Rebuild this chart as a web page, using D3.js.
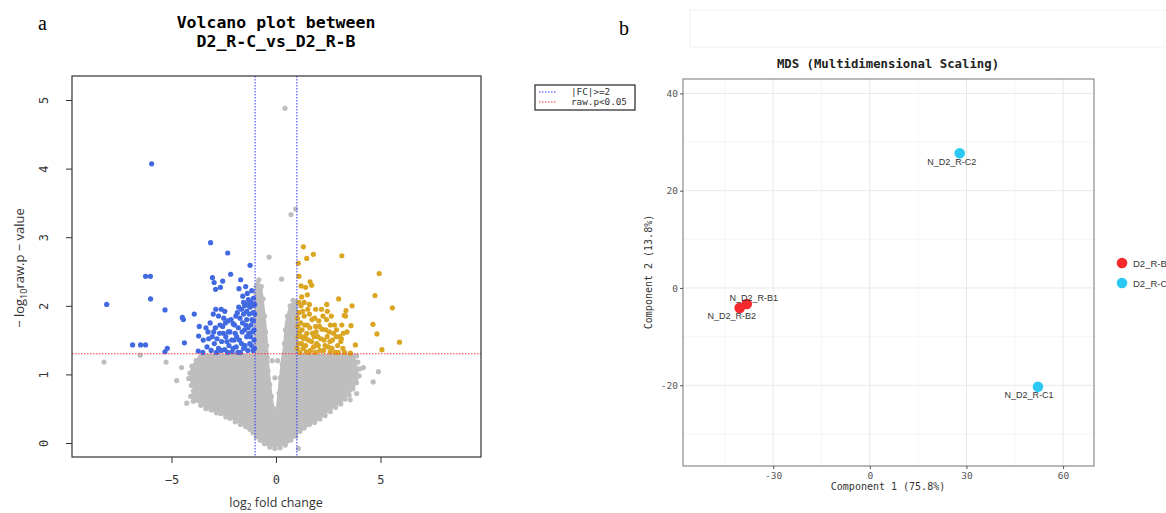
<!DOCTYPE html>
<html>
<head>
<meta charset="utf-8">
<script src="https://cdn.jsdelivr.net/npm/d3@7"></script>
<style>
  body { margin: 0; background: #fff; }
  svg { display: block; }
</style>
</head>
<body>
<div id="chart"></div>
<script>
// ---------- data: volcano plot ----------
var volcanoXTicks = [-5, 0, 5];
var volcanoYTicks = [0, 1, 2, 3, 4, 5];
var fcCut = 1;          // log2(2)
var pCut = 0.05;
var legendLabels = ["|FC|>=2", "raw.p<0.05"];

// down-regulated (log2FC, -log10 p)
var downGenes = [
  [-5.95, 4.07], [-3.13, 2.92], [-2.31, 2.77], [-1.24, 2.59], [-2.17, 2.46], [-6.24, 2.43], [-6.01, 2.43],
  [-3.04, 2.41], [-2.96, 2.34], [-2.55, 2.36], [-2.89, 2.24], [-2.66, 2.27], [-1.69, 2.38], [-1.77, 2.25],
  [-1.45, 2.28], [-1.37, 2.18], [-1.59, 2.14], [-1.16, 2.22], [-1.08, 2.11], [-1.32, 2.09], [-6.00, 2.10],
  [-8.10, 2.02], [-5.31, 1.94], [-4.48, 1.83], [-4.43, 1.80], [-3.91, 1.88], [-3.67, 1.70], [-3.70, 1.56],
  [-4.38, 1.46], [-6.86, 1.43], [-6.48, 1.43], [-6.24, 1.43], [-5.20, 1.38], [-5.31, 1.33], [-3.72, 1.34],
  [-3.00, 1.88], [-2.75, 1.85], [-2.50, 1.82], [-2.30, 1.78], [-2.05, 1.74], [-1.85, 1.90], [-1.65, 1.95],
  [-1.50, 2.00], [-1.25, 1.98], [-1.10, 1.90], [-3.25, 1.62], [-3.05, 1.55], [-2.90, 1.68], [-2.70, 1.60],
  [-2.55, 1.70], [-2.40, 1.55], [-2.20, 1.62], [-2.00, 1.50], [-1.80, 1.68], [-1.60, 1.75], [-1.40, 1.80],
  [-1.20, 1.72], [-1.05, 1.65], [-3.30, 1.40], [-3.10, 1.35], [-2.95, 1.45], [-2.75, 1.38], [-2.60, 1.48],
  [-2.45, 1.36], [-2.25, 1.42], [-2.10, 1.33], [-1.90, 1.40], [-1.75, 1.50], [-1.55, 1.38], [-1.40, 1.55],
  [-1.25, 1.45], [-1.10, 1.35], [-1.05, 1.50], [-1.30, 1.60], [-1.70, 1.32], [-2.35, 1.48], [-2.85, 1.32],
  [-1.15, 1.80], [-1.50, 1.65], [-1.95, 1.60], [-2.15, 1.80], [-1.02, 2.02], [-1.20, 2.05], [-1.40, 1.92],
  [-3.22, 1.52], [-3.15, 1.75], [-2.98, 1.62], [-2.82, 1.52], [-2.68, 1.72], [-2.62, 1.35], [-2.52, 1.60],
  [-2.42, 1.75], [-2.32, 1.32], [-2.28, 1.62], [-2.12, 1.50], [-2.05, 1.38], [-1.98, 1.72], [-1.88, 1.55],
  [-1.82, 1.32], [-1.72, 1.82], [-1.65, 1.45], [-1.62, 1.62], [-1.55, 1.88], [-1.48, 1.42], [-1.45, 1.72],
  [-1.35, 1.35], [-1.33, 1.68], [-1.28, 1.88], [-1.22, 1.55], [-1.18, 1.42], [-1.12, 1.62], [-1.08, 1.78],
  [-1.03, 1.38], [-1.02, 1.88], [-1.15, 2.00], [-1.35, 2.02], [-1.55, 2.05], [-2.45, 1.92], [-2.62, 1.95],
  [-2.88, 1.95], [-3.35, 1.68], [-3.48, 1.50], [-3.50, 1.32], [-1.92, 1.85], [-1.78, 1.98]
];

// up-regulated
var upGenes = [
  [1.31, 2.86], [1.79, 2.75], [1.47, 2.69], [3.15, 2.73], [1.07, 2.62], [1.10, 2.43], [1.63, 2.35],
  [1.71, 2.30], [1.20, 2.29], [1.42, 2.27], [1.50, 2.16], [4.94, 2.47], [4.74, 2.15], [5.57, 1.97],
  [3.00, 2.10], [3.64, 2.00], [2.43, 2.02], [2.46, 1.92], [3.35, 1.93], [3.27, 1.86], [3.33, 1.85],
  [1.23, 2.13], [1.20, 2.00], [4.64, 1.73], [4.83, 1.59], [5.91, 1.47], [5.07, 1.36], [3.59, 1.71],
  [3.15, 1.72], [3.40, 1.62], [3.13, 1.52], [3.80, 1.43], [3.56, 1.31], [1.10, 1.90], [1.35, 1.85],
  [1.60, 1.88], [1.85, 1.82], [2.05, 1.78], [2.25, 1.85], [2.60, 1.72], [2.90, 1.65], [1.05, 1.70],
  [1.25, 1.65], [1.50, 1.72], [1.75, 1.60], [2.00, 1.55], [2.20, 1.66], [2.45, 1.55], [2.70, 1.50],
  [2.95, 1.42], [3.20, 1.38], [1.08, 1.45], [1.30, 1.38], [1.55, 1.50], [1.80, 1.40], [2.10, 1.35],
  [2.35, 1.42], [2.60, 1.33], [2.85, 1.32], [1.15, 1.32], [1.45, 1.33], [1.95, 1.45], [2.50, 1.40],
  [1.65, 1.35], [1.40, 1.55], [2.30, 1.50], [1.90, 1.70], [1.20, 1.55], [2.75, 1.60], [3.05, 1.55],
  [1.02, 1.38], [1.05, 1.55], [1.03, 1.82], [1.12, 1.62], [1.18, 1.75], [1.22, 1.45], [1.28, 1.92],
  [1.33, 1.52], [1.38, 1.72], [1.42, 1.42], [1.48, 1.60], [1.52, 1.95], [1.58, 1.32], [1.62, 1.68],
  [1.70, 1.48], [1.72, 1.80], [1.82, 1.55], [1.88, 1.32], [1.92, 1.62], [2.02, 1.42], [2.08, 1.70],
  [2.15, 1.52], [2.18, 1.95], [2.28, 1.35], [2.38, 1.65], [2.42, 1.80], [2.55, 1.62], [2.58, 1.48],
  [2.68, 1.38], [2.80, 1.72], [2.88, 1.55], [2.98, 1.32], [3.10, 1.48], [3.22, 1.60], [3.28, 1.32],
  [1.10, 2.05], [1.35, 2.05], [1.60, 2.02], [1.90, 1.95], [2.65, 1.85]
];

// not significant: scattered points and the ragged rim of the dense cloud
var nsGenes = [
  [0.43, 4.88], [0.72, 3.33], [0.94, 3.41], [-0.33, 2.71], [0.27, 2.39], [-8.23, 1.18], [-6.50, 1.28],
  [-5.26, 1.18], [-4.75, 0.91], [-4.52, 1.10], [-4.27, 0.58], [-3.96, 0.61], [4.18, 1.10], [4.90, 1.04],
  [4.65, 0.89], [3.86, 0.72], [3.55, 0.63], [1.07, -0.08], [1.07, 0.19],
  [-3.55, 1.26], [-3.82, 1.20], [-4.02, 1.12], [-4.12, 1.02], [-4.18, 0.94], [-4.05, 0.84], [-3.95, 0.76],
  [-4.08, 0.68], [-3.88, 0.62], [-3.60, 0.55], [-3.35, 0.50], [-3.10, 0.48], [-2.85, 0.44], [-2.65, 0.43],
  [-2.40, 0.38], [-2.20, 0.36], [-1.95, 0.31], [-1.70, 0.27], [-1.45, 0.24], [-1.25, 0.20], [-1.10, 0.15],
  [-0.95, 0.09], [-0.75, 0.04], [-0.55, -0.01], [-0.30, -0.06], [-0.05, -0.08], [0.20, -0.07], [0.45, -0.03],
  [0.70, 0.04], [0.95, 0.10], [1.15, 0.17], [1.35, 0.22], [1.60, 0.27], [1.85, 0.30], [2.10, 0.35],
  [2.35, 0.40], [2.60, 0.46], [2.85, 0.52], [3.10, 0.57], [3.30, 0.64], [3.50, 0.70], [3.68, 0.79],
  [3.85, 0.88], [3.98, 0.98], [4.00, 1.08], [3.92, 1.18], [3.85, 1.27],
  [-0.42, 1.25], [-0.38, 1.05], [-0.30, 0.85], [-0.22, 0.68], [-0.12, 0.50], [0.08, 0.50], [0.15, 0.72],
  [0.22, 0.95], [0.30, 1.15], [0.38, 1.30], [-0.05, 0.95], [0.08, 1.20], [-0.18, 1.20],
  [-0.95, 2.28], [-0.82, 2.38], [-0.70, 2.28], [-0.62, 2.10], [-0.55, 1.85], [-0.50, 1.62], [-0.45, 1.42],
  [0.40, 1.45], [0.45, 1.65], [0.55, 1.85], [0.68, 2.00], [0.82, 2.08], [0.96, 2.06]
];

// outline of the dense grey cloud (too many genes to place one by one)
var nsCloud = [
  [-3.6, 1.28], [-4.0, 1.10], [-4.1, 0.95], [-3.9, 0.80], [-4.0, 0.68], [-3.5, 0.55], [-3.0, 0.48],
  [-2.5, 0.42], [-2.0, 0.35], [-1.6, 0.28], [-1.2, 0.22], [-0.9, 0.12], [-0.7, 0.04], [-0.45, -0.02],
  [-0.1, -0.04], [0.2, -0.03], [0.5, 0.00], [0.8, 0.08], [1.1, 0.18], [1.5, 0.26], [1.9, 0.33],
  [2.3, 0.42], [2.7, 0.52], [3.1, 0.60], [3.4, 0.70], [3.7, 0.82], [3.9, 0.95], [3.85, 1.10],
  [3.7, 1.28], [1.0, 1.28], [1.0, 2.00], [0.85, 2.05], [0.65, 1.95], [0.5, 1.75], [0.4, 1.40],
  [0.3, 1.20], [0.18, 0.85], [0.05, 0.45], [-0.1, 0.45], [-0.22, 0.65], [-0.35, 1.00], [-0.42, 1.30],
  [-0.5, 1.65], [-0.6, 1.95], [-0.72, 2.25], [-0.88, 2.35], [-1.0, 2.20], [-1.0, 1.28]
];

// ---------- data: MDS ----------
var mdsSamples = ["N_D2_R-B1", "N_D2_R-B2", "N_D2_R-C1", "N_D2_R-C2"];
var mdsGroups = ["D2_R-B", "D2_R-B", "D2_R-C", "D2_R-C"];
var mdsComp1 = [-38.2, -40.4, 52.2, 27.9];
var mdsComp2 = [-3.3, -4.1, -20.3, 27.7];
var mdsXTicks = [-30, 0, 30, 60];
var mdsYTicks = [-20, 0, 20, 40];
var mdsXMinor = [-45, -15, 15, 45];
var mdsYMinor = [-30, -10, 10, 30];
var groupNames = ["D2_R-B", "D2_R-C"];

var W = 1166, H = 513;
var svg = d3.select("#chart").append("svg")
    .attr("width", W)
    .attr("height", H);

// panel letters
svg.append("text").attr("x", 38).attr("y", 30)
    .style("font-family", "Liberation Serif").style("font-size", "20px").text("a");
svg.append("text").attr("x", 619).attr("y", 35)
    .style("font-family", "Liberation Serif").style("font-size", "20px").text("b");

// faint frame from the pasted screenshot
svg.append("path")
    .attr("d", "M1166,10H690V47H1166")
    .attr("fill", "none").attr("stroke", "#efefef");

// ================= Volcano =================
var vx = d3.scaleLinear().domain([-9.76, 9.81]).range([72, 481]);
var vy = d3.scaleLinear().domain([-0.204, 5.35]).range([457, 76]);
var mono = "DejaVu Sans Mono";

var vol = svg.append("g");

vol.append("text").attr("x", 276).attr("y", 28).attr("text-anchor", "middle")
    .style("font-family", mono).style("font-weight", "bold").style("font-size", "16.5px")
    .text("Volcano plot between");
vol.append("text").attr("x", 276).attr("y", 47).attr("text-anchor", "middle")
    .style("font-family", mono).style("font-weight", "bold").style("font-size", "16.5px")
    .text("D2_R-C_vs_D2_R-B");

var cloud = d3.line().x(d => vx(d[0])).y(d => vy(d[1])).curve(d3.curveLinearClosed);
vol.append("path")
    .datum(nsCloud)
    .attr("d", cloud)
    .attr("fill", "#bebebe")
    .attr("stroke", "#bebebe")
    .attr("stroke-width", 3)
    .attr("stroke-linejoin", "round");

function dots(data, color) {
    vol.append("g").selectAll("circle")
        .data(data)
        .join("circle")
        .attr("cx", d => vx(d[0]))
        .attr("cy", d => vy(d[1]))
        .attr("r", 2.6)
        .attr("fill", color);
}
dots(nsGenes, "#bebebe");
dots(downGenes, "#4169e1");
dots(upGenes, "#daa520");

// threshold lines
[-fcCut, fcCut].forEach(function (c) {
    vol.append("line")
        .attr("x1", vx(c)).attr("x2", vx(c))
        .attr("y1", 76).attr("y2", 457)
        .attr("stroke", "#3535ff").attr("stroke-width", 1)
        .attr("stroke-dasharray", "1.5,1.5");
});
vol.append("line")
    .attr("x1", 72).attr("x2", 481)
    .attr("y1", vy(-Math.log10(pCut))).attr("y2", vy(-Math.log10(pCut)))
    .attr("stroke", "#ff3030").attr("stroke-width", 1)
    .attr("stroke-dasharray", "1.5,1.5");

vol.append("rect")
    .attr("x", 72).attr("y", 76).attr("width", 409).attr("height", 381)
    .attr("fill", "none").attr("stroke", "#333").attr("stroke-width", 1.2);

// axes
var vxAxis = vol.append("g")
    .attr("transform", "translate(0,457)")
    .call(d3.axisBottom(vx).tickValues(volcanoXTicks).tickSize(6).tickPadding(12).tickFormat(d3.format("d")));
vxAxis.select(".domain").remove();
vxAxis.selectAll("text").style("font-family", mono).style("font-size", "12px").attr("fill", "#333");
vxAxis.selectAll("line").attr("stroke", "#333");

var vyAxis = vol.append("g")
    .attr("transform", "translate(72,0)")
    .call(d3.axisLeft(vy).tickValues(volcanoYTicks).tickSize(6).tickFormat(d3.format("d")));
vyAxis.select(".domain").remove();
vyAxis.selectAll("line").attr("stroke", "#333");
vyAxis.selectAll("text")
    .attr("x", null).attr("dy", null)
    .attr("text-anchor", "middle")
    .attr("transform", "translate(-28,0) rotate(-90)")
    .attr("y", 4)
    .style("font-family", mono).style("font-size", "12px").attr("fill", "#333");

var xl = vol.append("text").attr("x", 276).attr("y", 507).attr("text-anchor", "middle")
    .style("font-family", "Open Sans").style("font-size", "12.5px").attr("fill", "#333");
xl.append("tspan").text("log");
xl.append("tspan").attr("dy", 3).style("font-size", "8.5px").text("2");
xl.append("tspan").attr("dy", -3).text(" fold change");

var yl = vol.append("text")
    .attr("transform", "translate(24,268) rotate(-90)")
    .attr("text-anchor", "middle")
    .style("font-family", "Open Sans").style("font-size", "13px").attr("fill", "#333");
yl.append("tspan").text("\u2212 log");
yl.append("tspan").attr("dy", 3).style("font-size", "9px").text("10");
yl.append("tspan").attr("dy", -3).text("raw.p \u2212 value");

// legend
var lg = vol.append("g");
lg.append("rect").attr("x", 535).attr("y", 85).attr("width", 100).attr("height", 25)
    .attr("fill", "#fff").attr("stroke", "#333").attr("stroke-width", 1.3);
var legendStroke = ["#3535ff", "#ff3030"];
legendLabels.forEach(function (t, i) {
    var yy = 92 + i * 10;
    lg.append("line").attr("x1", 539).attr("x2", 557).attr("y1", yy).attr("y2", yy)
        .attr("stroke", legendStroke[i]).attr("stroke-dasharray", "1.5,1.5");
    lg.append("text").attr("x", 571).attr("y", yy + 3.3)
        .style("font-family", mono).style("font-size", "9.3px").attr("fill", "#333").text(t);
});

// ================= MDS =================
var mx = d3.scaleLinear().domain([-58, 69.6]).range([683, 1094]);
var my = d3.scaleLinear().domain([-36.6, 42.96]).range([466, 79]);
var groupColor = d3.scaleOrdinal().domain(groupNames).range(["#f5292c", "#2bc8f3"]);
var mds = svg.append("g");

mds.append("text").attr("x", 888).attr("y", 68).attr("text-anchor", "middle")
    .style("font-family", mono).style("font-weight", "bold").style("font-size", "12.3px")
    .attr("fill", "#222").text("MDS (Multidimensional Scaling)");

// grid
mds.append("g").selectAll("line").data(mdsXMinor).join("line")
    .attr("x1", d => mx(d)).attr("x2", d => mx(d)).attr("y1", 79).attr("y2", 466)
    .attr("stroke", "#f2f2f2").attr("stroke-width", 0.7);
mds.append("g").selectAll("line").data(mdsYMinor).join("line")
    .attr("y1", d => my(d)).attr("y2", d => my(d)).attr("x1", 683).attr("x2", 1094)
    .attr("stroke", "#f2f2f2").attr("stroke-width", 0.7);
mds.append("g").selectAll("line").data(mdsXTicks).join("line")
    .attr("x1", d => mx(d)).attr("x2", d => mx(d)).attr("y1", 79).attr("y2", 466)
    .attr("stroke", "#e8e8e8").attr("stroke-width", 1);
mds.append("g").selectAll("line").data(mdsYTicks).join("line")
    .attr("y1", d => my(d)).attr("y2", d => my(d)).attr("x1", 683).attr("x2", 1094)
    .attr("stroke", "#e8e8e8").attr("stroke-width", 1);

mds.append("rect").attr("x", 683).attr("y", 79).attr("width", 411).attr("height", 387)
    .attr("fill", "none").attr("stroke", "#8a8a8a").attr("stroke-width", 1.2);

var mxAxis = mds.append("g").attr("transform", "translate(0,466)")
    .call(d3.axisBottom(mx).tickValues(mdsXTicks).tickSize(3).tickPadding(3));
mxAxis.select(".domain").remove();
mxAxis.selectAll("line").attr("stroke", "#555");
mxAxis.selectAll("text").style("font-family", mono).style("font-size", "9.5px").attr("fill", "#555")
    .text(d => d3.format("d")(d).replace("\u2212", "-"));

var myAxis = mds.append("g").attr("transform", "translate(683,0)")
    .call(d3.axisLeft(my).tickValues(mdsYTicks).tickSize(3).tickPadding(2));
myAxis.select(".domain").remove();
myAxis.selectAll("line").attr("stroke", "#555");
myAxis.selectAll("text").style("font-family", mono).style("font-size", "9.5px").attr("fill", "#555")
    .text(d => d3.format("d")(d).replace("\u2212", "-"));

mds.append("text").attr("x", 888).attr("y", 490).attr("text-anchor", "middle")
    .style("font-family", mono).style("font-size", "10px").attr("fill", "#333")
    .text("Component 1 (75.8%)");
mds.append("text").attr("transform", "translate(652,272) rotate(-90)").attr("text-anchor", "middle")
    .style("font-family", mono).style("font-size", "10px").attr("fill", "#333")
    .text("Component 2 (13.8%)");

var samples = mdsSamples.map(function (s, i) {
    return { name: s, group: mdsGroups[i], c1: mdsComp1[i], c2: mdsComp2[i] };
});
// label nudges (px) as placed by the original repel layout
var nudge = { "N_D2_R-B1": [7, -3], "N_D2_R-B2": [-8, 11], "N_D2_R-C1": [-9, 11], "N_D2_R-C2": [-8, 12] };

mds.append("g").selectAll("circle").data(samples).join("circle")
    .attr("cx", d => mx(d.c1)).attr("cy", d => my(d.c2)).attr("r", 5.3)
    .attr("fill", d => groupColor(d.group));
mds.append("g").selectAll("text").data(samples).join("text")
    .attr("x", d => mx(d.c1) + nudge[d.name][0])
    .attr("y", d => my(d.c2) + nudge[d.name][1])
    .attr("text-anchor", "middle")
    .style("font-family", "Liberation Sans").style("font-size", "9px").attr("fill", "#333")
    .text(d => d.name);

// group legend (cut by the page edge)
var ml = mds.append("g");
groupNames.forEach(function (g, i) {
    ml.append("circle").attr("cx", 1122).attr("cy", 263 + i * 20).attr("r", 5.3).attr("fill", groupColor(g));
    ml.append("text").attr("x", 1133).attr("y", 266.5 + i * 20)
        .style("font-family", "Liberation Sans").style("font-size", "9.5px").attr("fill", "#333").text(g);
});
</script>
</body>
</html>
